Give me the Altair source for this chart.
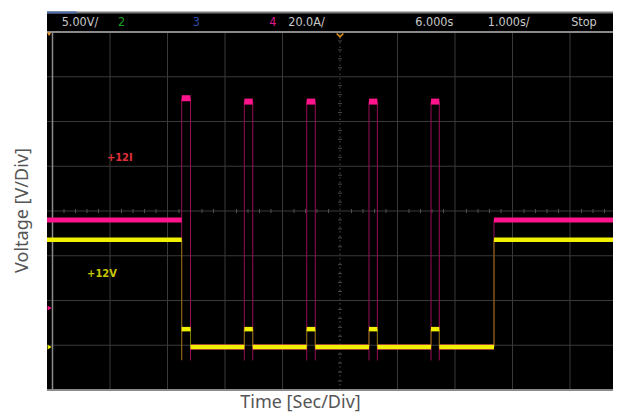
import altair as alt
import pandas as pd

# ---------------- data ----------------
# time in seconds (1.000 s/div), measured from the left graticule edge
pulse_start_s = [2.247, 3.336, 4.421, 5.504, 6.583]
pulse_end_s = [2.400, 3.483, 4.570, 5.650, 6.727]
restore_s = 7.678

# channel 1 (yellow) in volts, 5.00 V/div
ch1_high_v = 12.0
ch1_pulse_v = 2.0
ch1_low_v = 0.0
ch1_dip_v = -1.45

# channel 4 (magenta) in amps, 20.0 A/div
ch4_high_a = 56.8
ch4_peak_a = [111.2, 109.7, 109.7, 109.7, 109.7]
ch4_low_a = 0.0

V_PER_DIV = 5.0
A_PER_DIV = 20.0
GND_DIV = 0.96          # ground reference marker (divisions above bottom)
CH4_MARK_DIV = 1.83     # channel 4 marker

top_labels = ["5.00V/", "2", "3", "4", "20.0A/", "6.000s", "1.000s/", "Stop"]
top_label_t = [0.16, 1.14, 2.44, 3.77, 4.10, 6.31, 7.57, 9.02]
top_label_colors = ["#c8c8c8", "#1e9e1e", "#2c4cb0", "#e0188e",
                    "#c8c8c8", "#c8c8c8", "#c8c8c8", "#c8c8c8"]

trace_labels = ["+12I", "+12V"]
trace_label_t = [1.17, 0.86]
trace_label_div = [5.18, 2.59]
trace_label_colors = ["#e0303c", "#c8c800"]

T0, T1 = -0.0957, 9.748
D0, D1 = 0.0, 8.447

YELLOW = "#f0f000"
YELLOW_DIM = "#7a7a00"
MAGENTA = "#ff148c"
MAGENTA_DIM = "#9a0c55"

def vdiv(v):
    return GND_DIV + v / V_PER_DIV

def adiv(a):
    return GND_DIV + a / A_PER_DIV

# ---------------- build segments ----------------
y_h, y_v, m_h, m_v = [], [], [], []
# yellow
y_h.append((T0, pulse_start_s[0], vdiv(ch1_high_v)))
for i, (s, e) in enumerate(zip(pulse_start_s, pulse_end_s)):
    y_h.append((s, e, vdiv(ch1_pulse_v)))
    nxt = pulse_start_s[i + 1] if i + 1 < len(pulse_start_s) else restore_s
    y_h.append((e, nxt, vdiv(ch1_low_v)))
    y_v.append((e, vdiv(ch1_pulse_v), vdiv(ch1_low_v)))
    if i == 0:
        y_v.append((s, vdiv(ch1_high_v), vdiv(ch1_dip_v)))
    else:
        y_v.append((s, vdiv(ch1_low_v), vdiv(ch1_pulse_v)))
y_v.append((restore_s, vdiv(ch1_low_v), vdiv(ch1_high_v)))
y_h.append((restore_s, T1, vdiv(ch1_high_v)))

# magenta
m_h.append((T0, pulse_start_s[0], adiv(ch4_high_a)))
for i, (s, e, p) in enumerate(zip(pulse_start_s, pulse_end_s, ch4_peak_a)):
    m_h.append((s, e, adiv(p)))
    nxt = pulse_start_s[i + 1] if i + 1 < len(pulse_start_s) else restore_s
    m_h.append((e, nxt, adiv(ch4_low_a)))
    m_v.append((s, adiv(ch4_low_a) - 0.3, adiv(p)))
    m_v.append((e, adiv(ch4_low_a) - 0.3, adiv(p)))
m_v.append((restore_s, adiv(ch4_low_a), adiv(ch4_high_a)))
m_h.append((restore_s, T1, adiv(ch4_high_a)))

yh = pd.DataFrame(y_h, columns=["t0", "t1", "d"])
yv = pd.DataFrame(y_v, columns=["t", "d0", "d1"])
mh = pd.DataFrame(m_h, columns=["t0", "t1", "d"])
mv = pd.DataFrame(m_v, columns=["t", "d0", "d1"])
m_peak = mh[mh["d"] > adiv(ch4_high_a) + 0.5]
m_lvl = mh[mh["d"] <= adiv(ch4_high_a) + 0.5]

# graticule
vgrid = pd.DataFrame({"t": [1.0, 2.0, 3.0, 4.0, 6.0, 7.0, 8.0, 9.0], "d0": 0.0, "d1": 8.0})
cgrid = pd.DataFrame({"t": [5.0], "d0": [0.0], "d1": [8.0]})
hgrid = pd.DataFrame({"d": [float(k) for k in range(1, 8)], "t0": T0, "t1": T1})
hticks = pd.DataFrame({"t": [k * 0.2 for k in range(0, 50) if k % 5]})
hticks["d0"] = 4 - 0.045
hticks["d1"] = 4 + 0.045
vticks = pd.DataFrame({"d": [k * 0.2 for k in range(1, 40) if k % 5]})
vticks["t0"] = 5 - 0.035
vticks["t1"] = 5 + 0.035

tops = pd.DataFrame({"label": top_labels, "t": top_label_t, "color": top_label_colors})
tops["d"] = 8.22
tl = pd.DataFrame({"label": trace_labels, "t": trace_label_t, "d": trace_label_div,
                   "color": trace_label_colors})

xs = alt.Scale(domain=[T0, T1], nice=False, zero=False)
ys = alt.Scale(domain=[D0, D1], nice=False, zero=False)

TITLE_FONT = "Noto Sans"
x_axis = alt.Axis(title="Time [Sec/Div]", labels=False, ticks=False, domain=False, grid=False,
                  titleFont=TITLE_FONT, titleFontSize=18, titleFontWeight="normal",
                  titleColor="#555555", titleX=253, titleY=17, titleAlign="center",
                  titleBaseline="alphabetic")
y_axis = alt.Axis(title="Voltage [V/Div]", labels=False, ticks=False, domain=False, grid=False,
                  titleFont=TITLE_FONT, titleFontSize=18, titleFontWeight="normal",
                  titleColor="#555555", titleX=-25, titleY=198, titleAngle=270,
                  titleAlign="center", titleBaseline="middle")

def X(f):
    return alt.X(f, type="quantitative", scale=xs, axis=x_axis)

def Y(f):
    return alt.Y(f, type="quantitative", scale=ys, axis=y_axis)

GRID = "#3a3a3a"

l_vgrid = alt.Chart(vgrid).mark_rule(color=GRID, strokeWidth=1).encode(
    x=X("t"), y=Y("d0"), y2="d1")
l_cgrid = alt.Chart(cgrid).mark_rule(color="#4a4a4a", strokeWidth=1, strokeDash=[1.5, 3]).encode(
    x=X("t"), y=Y("d0"), y2="d1")
l_hgrid = alt.Chart(hgrid).mark_rule(color=GRID, strokeWidth=1).encode(
    x=X("t0"), x2="t1", y=Y("d"))
l_hticks = alt.Chart(hticks).mark_rule(color="#505050", strokeWidth=1).encode(
    x=X("t"), y=Y("d0"), y2="d1")
l_vticks = alt.Chart(vticks).mark_rule(color="#484848", strokeWidth=1).encode(
    x=X("t0"), x2="t1", y=Y("d"))

border = pd.DataFrame({"t0": [T0, T0, T0, T0], "t1": [T1, T1, T1, 0.42],
                       "d": [0.0, 8.0, D1 - 0.01, D1 - 0.01],
                       "c": ["#8a8a8a", "#8a8a8a", "#7a7a7a", "#4a6aa8"]})
l_border_h = alt.Chart(border).mark_rule(strokeWidth=2).encode(
    x=X("t0"), x2="t1", y=Y("d"), color=alt.Color("c:N", scale=None))
lborder = pd.DataFrame({"t": [0.0], "d0": [0.0], "d1": [8.0]})
l_border_v = alt.Chart(lborder).mark_rule(color="#8a8a8a", strokeWidth=1.5).encode(
    x=X("t"), y=Y("d0"), y2="d1")

l_mv = alt.Chart(mv).mark_rule(color=MAGENTA_DIM, strokeWidth=1).encode(
    x=X("t"), y=Y("d0"), y2="d1")
l_mh = alt.Chart(m_lvl).mark_rule(color=MAGENTA, strokeWidth=5).encode(
    x=X("t0"), x2="t1", y=Y("d"))
l_mpk = alt.Chart(m_peak).mark_rule(color=MAGENTA, strokeWidth=6).encode(
    x=X("t0"), x2="t1", y=Y("d"))
l_yv = alt.Chart(yv).mark_rule(color=YELLOW_DIM, strokeWidth=1).encode(
    x=X("t"), y=Y("d0"), y2="d1")
l_yh = alt.Chart(yh).mark_rule(color=YELLOW, strokeWidth=4.5).encode(
    x=X("t0"), x2="t1", y=Y("d"))

markers = pd.DataFrame({"t": [-0.05, -0.05], "d": [CH4_MARK_DIV, GND_DIV],
                        "c": [MAGENTA, YELLOW]})
l_mark = alt.Chart(markers).mark_point(shape="triangle-right", filled=True, size=22,
                                       opacity=1).encode(
    x=X("t"), y=Y("d"), color=alt.Color("c:N", scale=None))

trig = pd.DataFrame({"t": [-0.06], "d": [7.95]})
l_trig = alt.Chart(trig).mark_point(shape="triangle-down", filled=True, size=18,
                                    color="#f0a030", opacity=1).encode(x=X("t"), y=Y("d"))
chev = pd.DataFrame({"t": [5.0], "d": [7.93]})
l_chev = alt.Chart(chev).mark_point(shape="M-1,-0.5L0,0.5L1,-0.5", filled=False, size=45,
                                    strokeWidth=1.6, color="#e09020", opacity=1).encode(
    x=X("t"), y=Y("d"))

NARROW = "Liberation Sans Narrow, DejaVu Sans Condensed, sans-serif"
l_top = alt.Chart(tops).mark_text(align="left", baseline="middle", fontSize=12.5,
                                  font=NARROW).encode(
    x=X("t"), y=Y("d"), text="label:N", color=alt.Color("color:N", scale=None))
l_tl = alt.Chart(tl).mark_text(align="center", baseline="middle", fontSize=11,
                               font=NARROW, fontWeight="bold").encode(
    x=X("t"), y=Y("d"), text="label:N", color=alt.Color("color:N", scale=None))

chart = alt.layer(
    l_vgrid, l_cgrid, l_hgrid, l_hticks, l_vticks, l_border_h, l_border_v,
    l_mv, l_mh, l_yv, l_yh, l_mpk, l_mark, l_trig, l_chev, l_top, l_tl
).properties(
    width=566, height=378,
    padding={"left": 39, "top": 4, "right": 0, "bottom": 22},
    autosize=alt.AutoSizeParams(type="none"),
    background="white",
).configure_view(fill="black", stroke=None)

chart.save("out.html", embed_options={"renderer": "svg", "actions": False})
